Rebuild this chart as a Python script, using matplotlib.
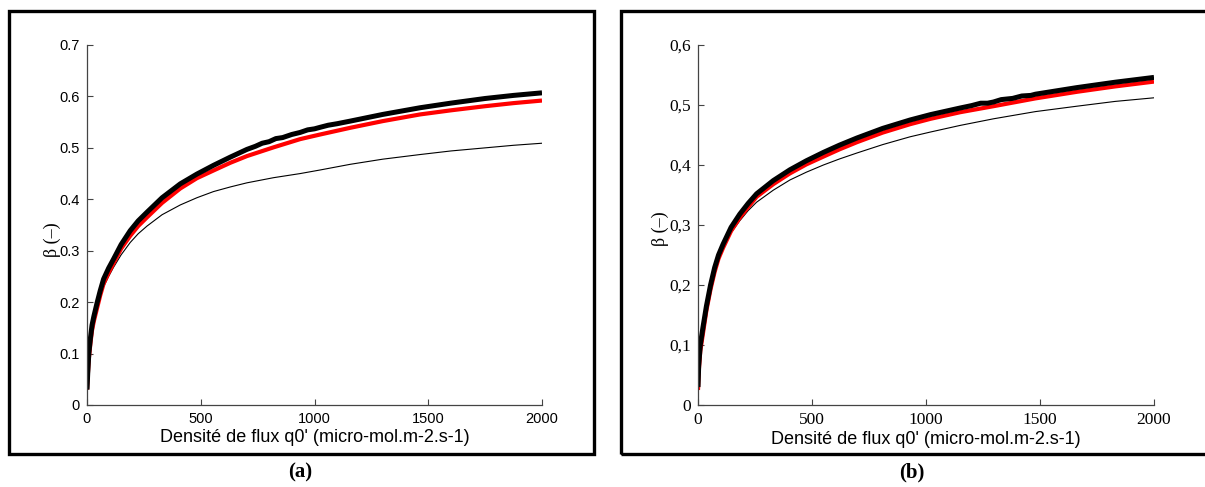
import numpy as np
import matplotlib
matplotlib.use('Agg')
import matplotlib.pyplot as plt
from matplotlib.patches import Rectangle

# panel (a) values
a_meas_x = [0, 3, 8, 15, 22, 30, 44, 58, 73, 95, 117, 150, 190, 225, 264, 330, 410, 483, 556, 630,
            703, 740, 770, 800, 830, 860, 900, 937, 970, 1000, 1025, 1060, 1100, 1157, 1300, 1464,
            1600, 1750, 1875, 2000]
a_meas = [0.03, 0.06, 0.10, 0.13, 0.155, 0.172, 0.198, 0.222, 0.245, 0.266, 0.284, 0.312, 0.339,
          0.358, 0.375, 0.403, 0.430, 0.449, 0.466, 0.482, 0.497, 0.503, 0.509, 0.512, 0.518, 0.520,
          0.526, 0.530, 0.535, 0.537, 0.540, 0.544, 0.547, 0.552, 0.565, 0.578, 0.587, 0.596, 0.602,
          0.607]
xa = [0, 3, 8, 15, 22, 30, 44, 58, 73, 95, 117, 150, 190, 225, 264, 330, 410, 483, 556, 630, 703,
      820, 937, 1025, 1157, 1300, 1464, 1600, 1750, 1875, 2000]
a_model1 = [0.03, 0.055, 0.09, 0.12, 0.145, 0.163, 0.188, 0.213, 0.236, 0.257, 0.276, 0.304, 0.329,
            0.348, 0.365, 0.393, 0.421, 0.441, 0.456, 0.471, 0.484, 0.501, 0.517, 0.526, 0.539,
            0.552, 0.565, 0.573, 0.581, 0.587, 0.592]
a_model2 = [0.03, 0.06, 0.095, 0.125, 0.15, 0.165, 0.19, 0.212, 0.23, 0.25, 0.268, 0.292, 0.316,
            0.333, 0.348, 0.37, 0.389, 0.403, 0.415, 0.424, 0.432, 0.442, 0.450, 0.457, 0.468,
            0.478, 0.487, 0.494, 0.500, 0.505, 0.509]

# panel (b)
b_meas_x = [0, 3, 10, 22, 37, 55, 73, 90, 110, 145, 183, 220, 257, 330, 403, 475, 550, 620, 697,
            810, 930, 1020, 1150, 1200, 1240, 1270, 1296, 1330, 1380, 1420, 1460, 1480, 1662, 1830,
            2000]
b_meas = [0.03, 0.065, 0.10, 0.13, 0.165, 0.2, 0.229, 0.250, 0.268, 0.296, 0.318, 0.336, 0.352,
          0.374, 0.392, 0.407, 0.421, 0.433, 0.445, 0.461, 0.475, 0.484, 0.495, 0.499, 0.503, 0.503,
          0.505, 0.509, 0.511, 0.515, 0.516, 0.518, 0.529, 0.538, 0.546]
xb = [0, 3, 10, 22, 37, 55, 73, 90, 110, 145, 183, 220, 257, 330, 403, 475, 550, 620, 697, 810,
      930, 1020, 1150, 1296, 1480, 1662, 1830, 2000]
b_model1 = [0.025, 0.055, 0.09, 0.12, 0.158, 0.193, 0.222, 0.244, 0.262, 0.290, 0.312, 0.330,
            0.347, 0.368, 0.386, 0.401, 0.414, 0.426, 0.438, 0.454, 0.468, 0.477, 0.488, 0.498,
            0.511, 0.522, 0.531, 0.539]
b_model2 = [0.03, 0.065, 0.1, 0.13, 0.163, 0.197, 0.225, 0.245, 0.262, 0.287, 0.307, 0.324, 0.338,
            0.358, 0.375, 0.388, 0.400, 0.410, 0.420, 0.434, 0.447, 0.455, 0.466, 0.477, 0.489,
            0.498, 0.506, 0.512]

xticks = [0, 500, 1000, 1500, 2000]
a_yticks = [0, 0.1, 0.2, 0.3, 0.4, 0.5, 0.6, 0.7]
a_ylabels = ['0', '0.1', '0.2', '0.3', '0.4', '0.5', '0.6', '0.7']
b_yticks = [0, 0.1, 0.2, 0.3, 0.4, 0.5, 0.6]
b_ylabels = ['0', '0,1', '0,2', '0,3', '0,4', '0,5', '0,6']

xlabel = "Densité de flux q0' (micro-mol.m-2.s-1)"
ylabel = 'β (–)'

fig = plt.figure(figsize=(12.05, 4.87), dpi=100)

# frames around each panel
fig.patches.append(Rectangle((9 / 1205, 33 / 487), 585 / 1205, 443 / 487, transform=fig.transFigure,
                             fill=False, lw=2.4, ec='black'))
fig.patches.append(Rectangle((621 / 1205, 33 / 487), 600 / 1205, 443 / 487, transform=fig.transFigure,
                             fill=False, lw=2.4, ec='black'))

ax1 = fig.add_axes([87 / 1205, 82 / 487, 455 / 1205, 360 / 487])
ax2 = fig.add_axes([698 / 1205, 82 / 487, 456 / 1205, 360 / 487])

sans = 'Liberation Sans'
serif = 'Liberation Serif'

for ax, x, meas_x, meas, m1, m2, yt, yl, tfont, ymax in [
        (ax1, xa, a_meas_x, a_meas, a_model1, a_model2, a_yticks, a_ylabels, sans, 0.7),
        (ax2, xb, b_meas_x, b_meas, b_model1, b_model2, b_yticks, b_ylabels, serif, 0.6)]:
    ax.plot(x, m2, color='black', lw=0.8)
    ax.plot(x, m1, color='red', lw=3.0, solid_capstyle='butt')
    ax.plot(meas_x, meas, color='black', lw=3.6, solid_capstyle='butt')
    ax.set_xlim(0, 2000)
    ax.set_ylim(0, ymax)
    ax.spines['top'].set_visible(False)
    ax.spines['right'].set_visible(False)
    for s in ['left', 'bottom']:
        ax.spines[s].set_color('#444444')
        ax.spines[s].set_linewidth(0.9)
    fs = 10.5 if tfont == sans else 12.5
    ax.set_xticks(xticks)
    ax.set_xticklabels([str(t) for t in xticks], fontfamily=tfont, fontsize=fs)
    ax.set_yticks(yt)
    ax.set_yticklabels(yl, fontfamily=tfont, fontsize=fs)
    ax.tick_params(direction='in', length=4, width=0.8, color='#444444', pad=5)
    ax.set_xlabel(xlabel, fontfamily=sans, fontsize=13, labelpad=2)
    ax.set_ylabel(ylabel, fontfamily=serif, fontsize=13)

ax1.yaxis.set_label_coords(-0.058, 0.46)
ax2.yaxis.set_label_coords(-0.064, 0.49)

fig.text(300 / 1205, 1 - 472 / 487, '(a)', fontfamily=serif, fontweight='bold', fontsize=15,
         ha='center', va='center')
fig.text(912 / 1205, 1 - 472 / 487, '(b)', fontfamily=serif, fontweight='bold', fontsize=15,
         ha='center', va='center')

fig.savefig('out.png', dpi=100)
